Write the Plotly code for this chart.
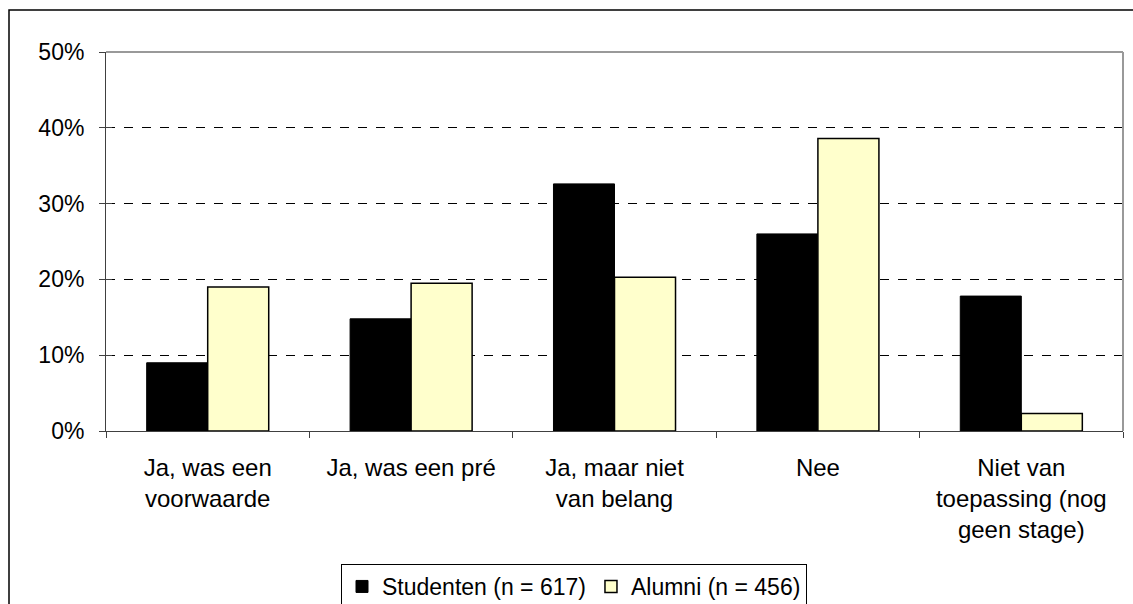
import plotly.graph_objects as go

categories = ["Ja, was een<br>voorwaarde", "Ja, was een pré", "Ja, maar niet<br>van belang", "Nee",
              "Niet van<br>toepassing (nog<br>geen stage)"]
studenten = [0.090, 0.148, 0.326, 0.260, 0.178]
alumni = [0.190, 0.195, 0.203, 0.386, 0.023]
series_names = ["Studenten (n = 617)", "Alumni (n = 456)"]
y_ticks = [0, 0.1, 0.2, 0.3, 0.4, 0.5]

FONT = "Liberation Sans, Arial, sans-serif"

fig = go.Figure()
fig.add_trace(go.Bar(x=categories, y=studenten, name=series_names[0],
                     marker=dict(color="#000000", line=dict(color="#000000", width=1))))
fig.add_trace(go.Bar(x=categories, y=alumni, name=series_names[1],
                     marker=dict(color="#FFFFCC", line=dict(color="#000000", width=1.5))))

L, R, T, B = 106, 10, 52, 173
W, H = 1133, 604
pw = W - L - R
ph = H - T - B

def px(x):
    return (x - L) / pw

def py(y):
    return (H - B - y) / ph

fig.update_layout(
    width=W, height=H,
    margin=dict(l=L, r=R, t=T, b=B, autoexpand=False),
    paper_bgcolor="white", plot_bgcolor="white",
    barmode="group", bargap=0.4, bargroupgap=0,
    font=dict(family=FONT, size=24, color="black"),
    showlegend=True,
    legend=dict(orientation="h", x=px(574), xanchor="center", y=py(564), yanchor="top",
                bordercolor="black", borderwidth=1, font=dict(size=23),
                traceorder="normal", tracegroupgap=0),
    xaxis=dict(type="category", showline=True, linecolor="#404040", linewidth=1,
               ticks="outside", ticklen=6, tickcolor="#404040", tickson="boundaries",
               showgrid=False, tickfont=dict(size=24), ticklabelstandoff=15,
               automargin=False),
    yaxis=dict(range=[0, 0.5], tickvals=y_ticks, tickformat=".0%", showline=True,
               linecolor="#404040", linewidth=1, ticks="outside", ticklen=6,
               tickcolor="#404040", showgrid=True, gridcolor="black", griddash="dash",
               gridwidth=1, zeroline=False, tickfont=dict(size=23), ticklabelstandoff=10,
               automargin=False,
               minor=dict(tickvals=y_ticks, ticks="inside", ticklen=6, tickcolor="#404040",
                          showgrid=False)),
)

# plot area border (top and right in gray)
fig.add_shape(type="line", xref="paper", yref="paper", x0=0, x1=1, y0=1, y1=1,
              line=dict(color="#999999", width=2), layer="above")
fig.add_shape(type="line", xref="paper", yref="paper", x0=1, x1=1, y0=0, y1=1,
              line=dict(color="#999999", width=2), layer="above")
# outer chart border
fig.add_shape(type="rect", xref="paper", yref="paper", x0=px(9), x1=px(1140),
              y0=py(620), y1=py(10), line=dict(color="black", width=1.5), layer="below")

fig.write_html("out.html", config={"displayModeBar": False},
               post_script="document.body.style.margin='0';document.body.style.overflow='hidden';")
